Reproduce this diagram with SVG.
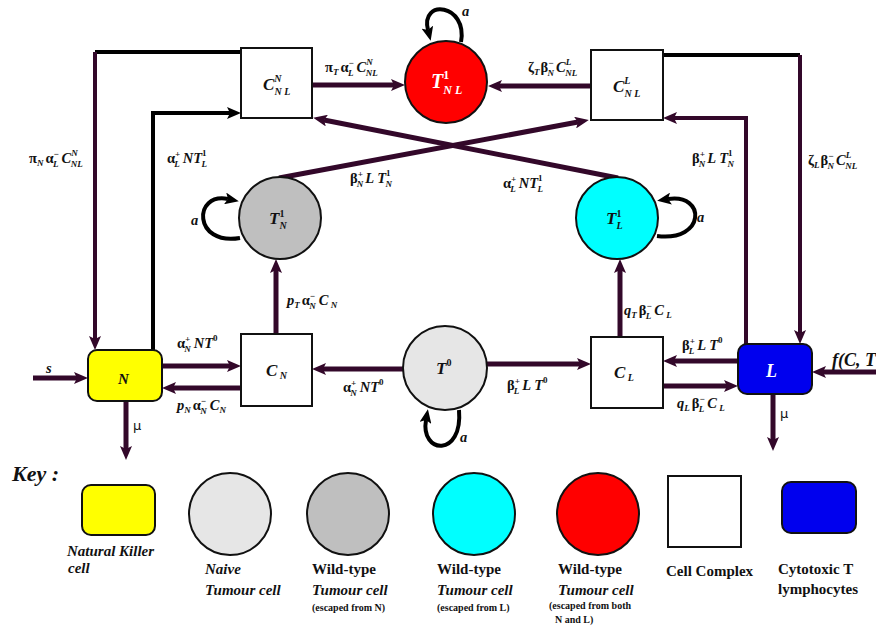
<svg xmlns="http://www.w3.org/2000/svg" width="876" height="628" viewBox="0 0 876 628">
<defs>
<style>
.m{font-family:"Liberation Serif",serif;font-weight:bold;font-style:italic;font-size:14.5px;fill:#111}
.g{font-style:normal}
.s{font-size:9px}
.d{font-style:normal}
.n{font-family:"Liberation Serif",serif;font-weight:bold;font-style:italic;font-size:17px;fill:#111}
.ns{font-size:10px}
.w{fill:#fff}
.box{fill:#fff;stroke:#111;stroke-width:2}
.cir{stroke:#111;stroke-width:2}
.ln{fill:none;stroke:#33082a;stroke-width:5}
.lv{fill:none;stroke:#33082a;stroke-width:4}
.lb{fill:none;stroke:#000;stroke-width:4}
.loop{fill:none;stroke:#000;stroke-width:4}
.k{font-family:"Liberation Serif",serif;font-weight:bold;font-size:15px;fill:#111}
.ki{font-style:italic}
.ks{font-size:10px}
.mu{font-family:"DejaVu Sans",sans-serif;font-size:13px;fill:#111}
</style>
<marker id="ap" viewBox="0 0 14 12" refX="3" refY="6" markerWidth="14" markerHeight="12" markerUnits="userSpaceOnUse" orient="auto"><path d="M0,0 L14,6 L0,12 L3,6 z" fill="#33082a"/></marker>
<marker id="ab" viewBox="0 0 14 12" refX="3" refY="6" markerWidth="14" markerHeight="12" markerUnits="userSpaceOnUse" orient="auto"><path d="M0,0 L14,6 L0,12 L3,6 z" fill="#000"/></marker>
</defs>
<rect width="876" height="628" fill="#fff"/>

<g id="connectors">
<path class="ln" d="M312 85 H394" marker-end="url(#ap)"/>
<path class="ln" d="M591 86 H499" marker-end="url(#ap)"/>
<path class="ln" d="M279 178 L578 122" marker-end="url(#ap)"/>
<path class="ln" d="M618 178 L324 120" marker-end="url(#ap)"/>
<path class="lb" d="M241 52 H95"/>
<path class="lv" d="M95 52 V339" marker-end="url(#ap)"/>
<path class="lb" d="M153 350 V113 H230" marker-end="url(#ab)"/>
<path class="lv" d="M746 344 V118 H674" marker-end="url(#ap)"/>
<path class="lb" d="M663 55 H800"/>
<path class="lv" d="M800 55 V333" marker-end="url(#ap)"/>
<path class="ln" d="M276 334 V270" marker-end="url(#ap)"/>
<path class="ln" d="M620 337 V270" marker-end="url(#ap)"/>
<path class="ln" d="M162 366 H230" marker-end="url(#ap)"/>
<path class="ln" d="M241 388 H173" marker-end="url(#ap)"/>
<path class="ln" d="M403 369 H323" marker-end="url(#ap)"/>
<path class="ln" d="M487 364 H580" marker-end="url(#ap)"/>
<path class="ln" d="M738 361 H674" marker-end="url(#ap)"/>
<path class="ln" d="M663 386 H727" marker-end="url(#ap)"/>
<path class="ln" d="M33 378 H77" marker-end="url(#ap)"/>
<path class="ln" d="M876 372 H823" marker-end="url(#ap)"/>
<path class="ln" d="M126 401 V449" marker-end="url(#ap)"/>
<path class="ln" d="M773 394 V440" marker-end="url(#ap)"/>
<path class="loop" d="M461 42 C468 4, 420 -2, 428 30" marker-end="url(#ab)"/>
<path class="loop" d="M240 238 C193 246, 193 192, 228 199" marker-end="url(#ab)"/>
<path class="loop" d="M657 236 C706 242, 706 193, 668 199" marker-end="url(#ab)"/>
<path class="loop" d="M459 410 C463 458, 420 454, 426 420" marker-end="url(#ab)"/>
</g>

<g id="labels">
<text class="m" x="325" y="72"><tspan class="g">π</tspan><tspan class="s" dy="3">T</tspan><tspan class="g" dx="2" dy="-3">α</tspan><tspan class="s" dy="-6">−</tspan><tspan class="s" dx="-6" dy="10">L</tspan><tspan dx="3" dy="-4">C</tspan><tspan class="s" dy="-7">N</tspan><tspan class="s" dx="-7" dy="11">NL</tspan></text>
<text class="m" x="528" y="72"><tspan class="g">ζ</tspan><tspan class="s" dy="3">T</tspan><tspan class="g" dx="1" dy="-3">β</tspan><tspan class="s" dy="-6">−</tspan><tspan class="s" dx="-6" dy="10">N</tspan><tspan dx="2" dy="-4">C</tspan><tspan class="s" dy="-7">L</tspan><tspan class="s" dx="-6" dy="11">NL</tspan></text>
<text class="m" x="462" y="16">a</text>
<text class="m" x="29" y="163"><tspan class="g">π</tspan><tspan class="s" dy="3">N</tspan><tspan class="g" dx="2" dy="-3">α</tspan><tspan class="s" dy="-6">−</tspan><tspan class="s" dx="-6" dy="10">L</tspan><tspan dx="3" dy="-4">C</tspan><tspan class="s" dy="-7">N</tspan><tspan class="s" dx="-7" dy="11">NL</tspan></text>
<text class="m" x="167" y="163"><tspan class="g">α</tspan><tspan class="s" dy="-6">+</tspan><tspan class="s" dx="-6" dy="10">L</tspan><tspan dx="3" dy="-4">NT</tspan><tspan class="s d" dy="-7">1</tspan><tspan class="s" dx="-5" dy="11">L</tspan></text>
<text class="m" x="191" y="225">a</text>
<text class="m" x="350" y="183"><tspan class="g">β</tspan><tspan class="s" dy="-6">+</tspan><tspan class="s" dx="-6" dy="10">N</tspan><tspan dx="2" dy="-4">L T</tspan><tspan class="s d" dy="-7">1</tspan><tspan class="s" dx="-5" dy="11">N</tspan></text>
<text class="m" x="503" y="188"><tspan class="g">α</tspan><tspan class="s" dy="-6">+</tspan><tspan class="s" dx="-6" dy="10">L</tspan><tspan dx="3" dy="-4">NT</tspan><tspan class="s d" dy="-7">1</tspan><tspan class="s" dx="-5" dy="11">L</tspan></text>
<text class="m" x="692" y="163"><tspan class="g">β</tspan><tspan class="s" dy="-6">+</tspan><tspan class="s" dx="-6" dy="10">N</tspan><tspan dx="2" dy="-4">L T</tspan><tspan class="s d" dy="-7">1</tspan><tspan class="s" dx="-5" dy="11">N</tspan></text>
<text class="m" x="808" y="165"><tspan class="g">ζ</tspan><tspan class="s" dy="3">L</tspan><tspan class="g" dx="1" dy="-3">β</tspan><tspan class="s" dy="-6">−</tspan><tspan class="s" dx="-6" dy="10">N</tspan><tspan dx="2" dy="-4">C</tspan><tspan class="s" dy="-7">L</tspan><tspan class="s" dx="-6" dy="11">NL</tspan></text>
<text class="m" x="697" y="222">a</text>
<text class="m" x="287" y="305">p<tspan class="s" dy="3">T</tspan><tspan class="g" dx="2" dy="-3">α</tspan><tspan class="s" dy="-6">−</tspan><tspan class="s" dx="-6" dy="10">N</tspan><tspan dx="3" dy="-4">C</tspan><tspan class="s" dy="3"> N</tspan></text>
<text class="m" x="177" y="348"><tspan class="g">α</tspan><tspan class="s" dy="-6">+</tspan><tspan class="s" dx="-6" dy="10">N</tspan><tspan dx="3" dy="-4">NT</tspan><tspan class="s d" dy="-7">0</tspan></text>
<text class="m" x="177" y="410">p<tspan class="s" dy="3">N</tspan><tspan class="g" dx="2" dy="-3">α</tspan><tspan class="s" dy="-6">−</tspan><tspan class="s" dx="-6" dy="10">N</tspan><tspan dx="3" dy="-4">C</tspan><tspan class="s" dy="3">N</tspan></text>
<text class="m" x="343" y="392"><tspan class="g">α</tspan><tspan class="s" dy="-6">+</tspan><tspan class="s" dx="-6" dy="10">N</tspan><tspan dx="3" dy="-4">NT</tspan><tspan class="s d" dy="-7">0</tspan></text>
<text class="m" x="46" y="373">s</text>
<text class="mu" x="133" y="430">μ</text>
<text class="m" x="624" y="315">q<tspan class="s" dy="3">T</tspan><tspan class="g" dx="2" dy="-3">β</tspan><tspan class="s" dy="-6">−</tspan><tspan class="s" dx="-6" dy="10">L</tspan><tspan dx="3" dy="-4">C</tspan><tspan class="s" dy="3"> L</tspan></text>
<text class="m" x="682" y="350"><tspan class="g">β</tspan><tspan class="s" dy="-6">+</tspan><tspan class="s" dx="-6" dy="10">L</tspan><tspan dx="3" dy="-4">L T</tspan><tspan class="s d" dy="-7">0</tspan></text>
<text class="m" x="507" y="390"><tspan class="g">β</tspan><tspan class="s" dy="-6">+</tspan><tspan class="s" dx="-6" dy="10">L</tspan><tspan dx="3" dy="-4">L T</tspan><tspan class="s d" dy="-7">0</tspan></text>
<text class="m" x="677" y="408">q<tspan class="s" dy="3">L</tspan><tspan class="g" dx="2" dy="-3">β</tspan><tspan class="s" dy="-6">−</tspan><tspan class="s" dx="-6" dy="10">L</tspan><tspan dx="3" dy="-4">C</tspan><tspan class="s" dy="3"> L</tspan></text>
<text class="m" x="832" y="366" style="font-size:18px">f(C, T</text>
<text class="mu" x="780" y="418">μ</text>
<text class="m" x="460" y="442">a</text>
</g>

<g id="node-CNNL"><rect class="box" x="241" y="48" width="71" height="70"/><text class="n" x="263" y="90">C<tspan class="ns" dy="-8">N</tspan><tspan class="ns" dx="-7" dy="13">N L</tspan></text></g>
<g id="node-TNL"><circle class="cir" cx="446" cy="82" r="41" fill="#ff0000"/><text class="n w" x="431" y="88" style="font-size:20px">T<tspan class="d" style="font-size:12px" dy="-9">1</tspan><tspan style="font-size:12px" dx="-6" dy="15">N L</tspan></text></g>
<g id="node-CLNL"><rect class="box" x="591" y="50" width="72" height="70"/><text class="n" x="613" y="92">C<tspan class="ns" dy="-8">L</tspan><tspan class="ns" dx="-6" dy="13">N L</tspan></text></g>
<g id="node-TN"><circle class="cir" cx="280" cy="218" r="41" fill="#bfbfbf"/><text class="n" x="269" y="224">T<tspan class="ns d" dy="-7">1</tspan><tspan class="ns" dx="-5" dy="12">N</tspan></text></g>
<g id="node-TL"><circle class="cir" cx="617" cy="218" r="41" fill="#00ffff"/><text class="n" x="606" y="224">T<tspan class="ns d" dy="-7">1</tspan><tspan class="ns" dx="-5" dy="12">L</tspan></text></g>
<g id="node-N"><rect x="88" y="350" width="74" height="51" rx="9" fill="#ffff00" stroke="#111" stroke-width="2"/><text class="n" x="118" y="384" style="font-size:15px">N</text></g>
<g id="node-CN"><rect class="box" x="241" y="334" width="71" height="72"/><text class="n" x="266" y="376">C<tspan class="ns" dy="3"> N</tspan></text></g>
<g id="node-T0"><circle class="cir" cx="445" cy="368" r="42" fill="#e6e6e6"/><text class="n" x="436" y="374">T<tspan class="ns d" dy="-8">0</tspan></text></g>
<g id="node-CL"><rect class="box" x="591" y="337" width="72" height="71"/><text class="n" x="614" y="378">C<tspan class="ns" dy="3"> L</tspan></text></g>
<g id="node-L"><rect x="738" y="344" width="74" height="50" rx="9" fill="#0000ee" stroke="#111" stroke-width="2"/><text class="n w" x="766" y="377" style="font-size:18px">L</text></g>

<g id="key">
<text class="k ki" x="12" y="481" style="font-size:22px">Key :</text>
<rect x="82" y="485" width="73" height="50" rx="9" fill="#ffff00" stroke="#111" stroke-width="2"/>
<text class="k ki" x="67" y="556">Natural Killer</text>
<text class="k ki" x="68" y="573">cell</text>
<circle class="cir" cx="230" cy="514" r="41" fill="#e6e6e6"/>
<text class="k ki" x="205" y="574">Naive</text>
<text class="k ki" x="205" y="595">Tumour cell</text>
<circle class="cir" cx="348" cy="514" r="41" fill="#bfbfbf"/>
<text class="k" x="312" y="574">Wild-type</text>
<text class="k ki" x="312" y="595">Tumour cell</text>
<text class="k ks" x="312" y="611">(escaped from N)</text>
<circle class="cir" cx="474" cy="514" r="41" fill="#00ffff"/>
<text class="k" x="437" y="574">Wild-type</text>
<text class="k ki" x="437" y="595">Tumour cell</text>
<text class="k ks" x="437" y="611">(escaped from L)</text>
<circle class="cir" cx="598" cy="514" r="41" fill="#ff0000"/>
<text class="k" x="558" y="574">Wild-type</text>
<text class="k ki" x="558" y="595">Tumour cell</text>
<text class="k ks" x="549" y="609">(escaped from both</text>
<text class="k ks" x="555" y="623">N and L)</text>
<rect class="box" x="668" y="476" width="73" height="71"/>
<text class="k" x="666" y="576">Cell Complex</text>
<rect x="782" y="482" width="74" height="51" rx="9" fill="#0000ee" stroke="#111" stroke-width="2"/>
<text class="k" x="778" y="574">Cytotoxic T</text>
<text class="k" x="778" y="594">lymphocytes</text>
</g>
</svg>
